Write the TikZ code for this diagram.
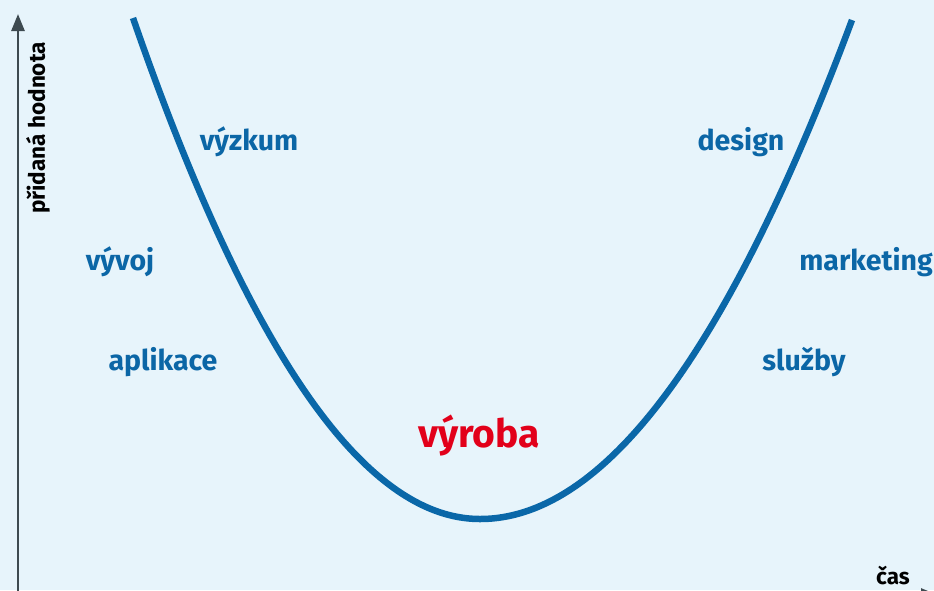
\documentclass[tikz,border=0pt]{standalone}
\usepackage{fontspec}
\setmainfont{Fira Sans}
\usetikzlibrary{arrows.meta}
\definecolor{bgc}{HTML}{E7F4FB}
\definecolor{curveblue}{HTML}{0A67A8}
\definecolor{textblue}{HTML}{0B66A6}
\definecolor{redc}{HTML}{E2001A}
\definecolor{axisc}{HTML}{3E4A50}
\tikzset{
  lbl/.style={text=textblue, font=\fontsize{28.5}{30}\selectfont\bfseries, inner sep=0pt},
  axlbl/.style={text=black, font=\fontsize{22.5}{24}\selectfont\bfseries, inner sep=0pt},
  axisline/.style={draw=axisc, line width=2.6pt, -{Triangle[length=17pt,width=13pt]}},
}
\begin{document}
\begin{tikzpicture}[x=1pt,y=-1pt]
\fill[bgc] (0,0) rectangle (934,590);
\useasboundingbox (0,0) rectangle (934,590);
% axes
\coordinate (o) at (18,600);
\coordinate (ytop) at (18,14);
\coordinate (hx0) at (18,595);
\coordinate (xend) at (938,595);
\draw[axisline] (o) -- (ytop);
\draw[axisline] (hx0) -- (xend);
% curve
\draw[curveblue, line width=6.5pt, domain=133:480, samples=80, smooth, variable=\x]
  plot (\x, {519 - 501*((480-\x)/347)^2});
\draw[curveblue, line width=6.5pt, domain=480:852, samples=80, smooth, variable=\x]
  plot (\x, {519 - 499*((\x-480)/372)^2});
% labels
\node[lbl] (vyzkum) at (249,142) {výzkum};
\node[lbl] (design) at (741,142) {design};
\node[lbl] (vyvoj) at (120,262) {vývoj};
\node[lbl] (marketing) at (866,262) {marketing};
\node[lbl] (aplikace) at (163,362) {aplikace};
\node[lbl] (sluzby) at (804,362) {služby};
\node[text=redc, font=\fontsize{39}{41}\selectfont\bfseries, inner sep=0pt] (vyroba) at (479,436) {výroba};
\node[axlbl, rotate=90] (yl) at (38,128) {přidaná hodnota};
\node[axlbl] (xl) at (893,576) {čas};
\end{tikzpicture}
\end{document}
